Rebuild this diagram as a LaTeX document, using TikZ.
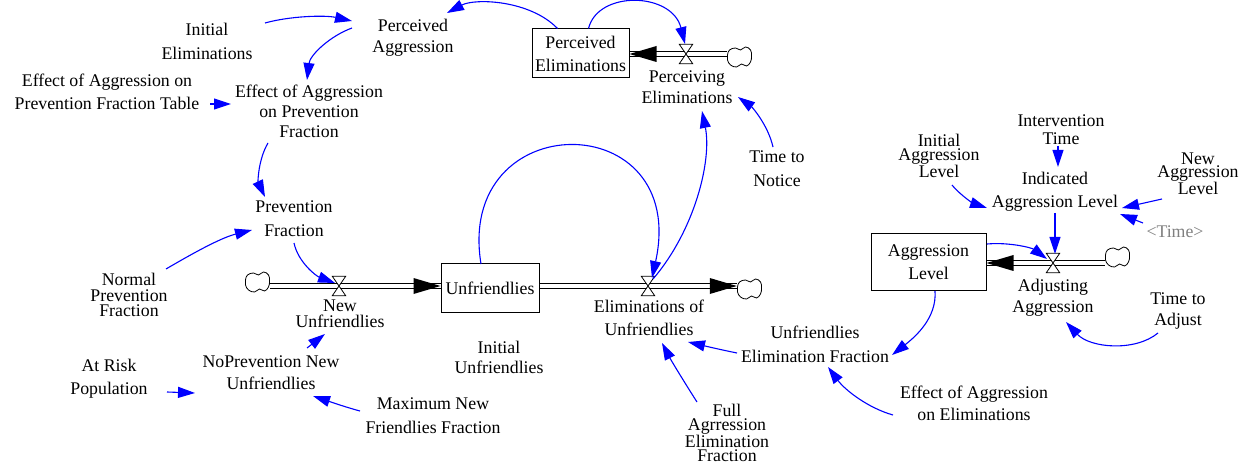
\documentclass[tikz,border=0pt]{standalone}
\usepackage{fontspec}
\setmainfont{Liberation Serif}
\usetikzlibrary{arrows.meta,calc}
\definecolor{lnk}{RGB}{0,0,255}
\definecolor{shadowgray}{RGB}{128,128,128}
\begin{document}
\begin{tikzpicture}[x=1pt,y=-1pt,
  var/.style={align=center,inner xsep=3pt,inner ysep=2pt,font=\fontsize{17.8}{#1}\selectfont},
  var/.default=23,
  stock/.style={draw,line width=1pt,inner sep=0pt,align=center,font=\fontsize{17.8}{23}\selectfont},
  valvenode/.style={minimum width=13pt,minimum height=19pt,inner sep=0pt},
  cloudnode/.style={minimum width=25pt,minimum height=20pt,inner sep=0pt},
  cloudline/.style={draw=black,line width=0.8pt,fill=white},
  link/.style={draw=lnk,line width=1.1pt,-{Triangle[length=17pt,width=11pt,fill=lnk]}},
  pipe/.style={draw=black,line width=0.9pt,double=white,double distance=3.4pt},
  valveshape/.style={draw=black,line width=0.8pt,fill=white},
  flowtip/.style={fill=black},
]
\useasboundingbox (0,0) rectangle (1248,465);

% auxiliaries
\node[var=24] (IE) at (207,41) {Initial\\Eliminations};
\node[var=21] (PA) at (413,38) {Perceived\\Aggression};
\node[var=23] (EAPFT) at (107,92) {Effect of Aggression on\\Prevention Fraction Table};
\node[var=20] (EAPF) at (309,111) {Effect of Aggression\\on Prevention\\Fraction};
\node[var=24] (PF) at (294,219) {Prevention\\Fraction};
\node[var=15.5] (NPF) at (129,295) {Normal\\Prevention\\Fraction};
\node[var=15.5] (NU) at (340,314) {New\\Unfriendlies};
\node[var=23] (ARP) at (109,379) {At Risk\\Population};
\node[var=22] (NPNU) at (271,373) {NoPrevention New\\Unfriendlies};
\node[var=24] (MNFF) at (433,416) {Maximum New\\Friendlies Fraction};
\node[var=20] (IU) at (499,357) {Initial\\Unfriendlies};
\node[var=23] (EoU) at (649,318) {Eliminations of\\Unfriendlies};
\node[var=13.5] (FAEF) at (727,433) {Full\\Agrression\\Elimination\\Fraction};
\node[var=24] (UEF) at (815,344) {Unfriendlies\\Elimination Fraction};
\node[var=22] (EAE) at (974,403) {Effect of Aggression\\on Eliminations};
\node[var=24] (TtN) at (777,168.5) {Time to\\Notice};
\node[var=21] (PEl) at (687,87) {Perceiving\\Eliminations};
\node[var=14.5] (IAL) at (939,156) {Initial\\Aggression\\Level};
\node[var=18] (IT) at (1061,130) {Intervention\\Time};
\node[var=23] (IndAL) at (1055,192) {Indicated\\Aggression Level};
\node[var=13] (NAL) at (1198,174) {New\\Aggression\\Level};
\node[var,text=shadowgray] (Time) at (1175,232) {<Time>};
\node[var=21] (AA) at (1053,298) {Adjusting\\Aggression};
\node[var=21] (TtA) at (1178,311) {Time to\\Adjust};

% stocks
\node[stock,minimum width=97pt,minimum height=49pt] (PE) at (580.5,53.5) {Perceived\\Eliminations};
\node[stock,minimum width=98pt,minimum height=48pt] (UF) at (490,288) {Unfriendlies};
\node[stock,minimum width=115pt,minimum height=56pt] (AL) at (928.5,262) {Aggression\\Level};

% valves and clouds
\node[valvenode] (v1) at (686,54) {};
\node[valvenode] (v2) at (339,286) {};
\node[valvenode] (v3) at (648,286) {};
\node[valvenode] (v4) at (1053,263) {};
\node[cloudnode] (c1) at (739.5,57) {};
\node[cloudnode] (c2) at (257.5,282) {};
\node[cloudnode] (c3) at (749.5,289) {};
\node[cloudnode] (c4) at (1117.5,257) {};

% pipes
\draw[pipe] (c1.west |- v1) -- (PE.east |- v1);
\fill[flowtip] (PE.east |- v1) -- ++(27,-8) -- ++(0,16) -- cycle;
\draw[pipe] (c2.east |- v2) -- (UF.west |- v2);
\fill[flowtip] (UF.west |- v2) -- ++(-27,-8) -- ++(0,16) -- cycle;
\draw[pipe] (UF.east |- v3) -- (c3.west |- v3);
\fill[flowtip] (c3.west |- v3) -- ++(-27,-8) -- ++(0,16) -- cycle;
\draw[pipe] (c4.west |- v4) -- (AL.east |- v4);
\fill[flowtip] (AL.east |- v4) -- ++(27,-8) -- ++(0,16) -- cycle;
\foreach \v in {v1,v2,v3,v4}{
  \draw[valveshape] (\v.north west) -- (\v.north east) -- (\v.south west) -- (\v.south east) -- cycle;
}
\foreach \c in {c1,c2,c3,c4}{
  \draw[cloudline,shift={(\c)}] plot[smooth cycle,tension=0.7] coordinates
    {(-12,-2) (-10,-7) (-4,-9) (1,-7) (6,-10) (11,-7) (12,-1) (11,5) (7,9) (2,7) (-3,10) (-9,8) (-12,3)};
}

% links
\draw[link] ($(IE)+(58,-18)$) .. controls (290,16) and (325,15) .. ($(PA)+(-61,-17)$);
\draw[link] ($(PA)+(-61,-10)$) .. controls (330,36) and (310,55) .. ($(EAPF)+(-2,-31)$);
\draw[link] ($(EAPFT)+(103,12)$) -- ($(EAPF)+(-78,-7)$);
\draw[link] ($(EAPF)+(-41,32)$) .. controls (258,160) and (258,182) .. ($(PF)+(-29,-22)$);
\draw[link] ($(NPF)+(37,-26)$) .. controls (190,255) and (220,238) .. ($(PF)+(-42,11)$);
\draw[link] ($(PF)+(0,24)$) .. controls (298,262) and (316,276) .. ($(v2)+(-4,-3)$);
\draw[link] ($(NPNU)+(36,-25)$) -- ($(NU)+(-15,20)$);
\draw[link] ($(ARP)+(58,13)$) -- ($(NPNU)+(-76,20)$);
\draw[link] ($(MNFF)+(-73,-5)$) .. controls (345,407) and (328,401) .. ($(NPNU)+(42,23)$);
\draw[link] ($(UF)+(-9,-24)$) .. controls (455,105) and (690,105) .. ($(v3)+(4,-8)$);
\draw[link] ($(v3)+(5,-7)$) .. controls (695,230) and (712,160) .. ($(PEl)+(15,24)$);
\draw[link] ($(TtN)+(-4,-21.5)$) .. controls (768,125) and (752,107) .. ($(PEl)+(51,10)$);
\draw[link] ($(PE)+(-23,-25)$) .. controls (530,0) and (475,-2) .. ($(PA)+(34,-25)$);
\draw[link] ($(PE)+(8,-25)$) .. controls (598,-10) and (672,-8) .. ($(v1)+(-1,-10)$);
\draw[link] ($(UEF)+(-78,9)$) .. controls (722,350) and (705,346) .. ($(EoU)+(39,24)$);
\draw[link] ($(FAEF)+(-30,-31)$) .. controls (688,388) and (672,362) .. ($(EoU)+(13,25)$);
\draw[link] ($(EAE)+(-81,12)$) .. controls (868,408) and (845,390) .. ($(UEF)+(13,23)$);
\draw[link] ($(AL)+(6.5,29)$) .. controls (937,318) and (915,337) .. ($(UEF)+(77,11)$);
\draw[link] ($(AL)+(58.5,-18)$) .. controls (1010,242) and (1032,248) .. ($(v4)+(-6,-4)$);
\draw[link] ($(IndAL)+(0,21)$) -- ($(v4)+(2,-9)$);
\draw[link] ($(IT)+(-3,16)$) -- ($(IndAL)+(3,-25)$);
\draw[link] ($(IAL)+(13,29)$) .. controls (962,197) and (975,204) .. ($(IndAL)+(-68,16)$);
\draw[link] ($(NAL)+(-36,25)$) -- ($(IndAL)+(67,16)$);
\draw[link] ($(Time)+(-32,-9)$) -- ($(IndAL)+(65,22)$);
\draw[link] ($(TtA)+(-20,22)$) .. controls (1135,352) and (1090,348) .. ($(AA)+(13,24)$);
\end{tikzpicture}
\end{document}
